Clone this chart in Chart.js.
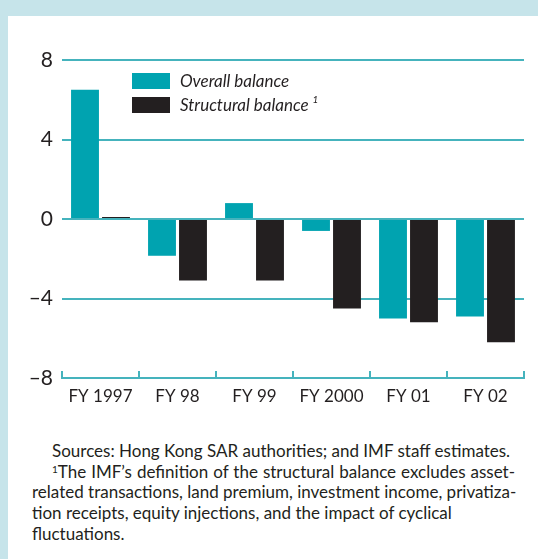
<!DOCTYPE html>
<html>
<head>
<meta charset="utf-8">
<script src="https://cdn.jsdelivr.net/npm/chart.js@4"></script>
<style>
  html, body { margin: 0; padding: 0; }
  body { width: 538px; height: 559px; background: #c6e4ea; position: relative; overflow: hidden; font-family: Lato, "Open Sans", sans-serif; color: #231f20; }
  #panel { position: absolute; left: 8px; top: 16px; width: 530px; height: 543px; background: #ffffff; }
  #wrap { position: absolute; left: 0; top: 0; width: 538px; height: 420px; }
  #notes { position: absolute; left: 32px; top: 441px; width: 483px; font-size: 17px; line-height: 20.7px; }
  #notes div { white-space: nowrap; }
  #notes .j { text-align: justify; text-align-last: justify; }
  sup { font-size: 10px; vertical-align: 5px; line-height: 0; }
</style>
</head>
<body>
<div id="panel"></div>
<div id="wrap"><canvas id="c"></canvas></div>
<div id="notes">
  <div style="padding-left:20px;">Sources: Hong Kong SAR authorities; and IMF staff estimates.</div>
  <div class="j" style="padding-left:20px;"><sup>1</sup>The IMF’s definition of the structural balance excludes asset-</div>
  <div class="j">related transactions, land premium, investment income, privatiza-</div>
  <div>tion receipts, equity injections, and the impact of cyclical</div>
  <div>fluctuations.</div>
</div>
<script>
const categories = ['FY 1997', 'FY 98', 'FY 99', 'FY 2000', 'FY 01', 'FY 02'];
const overallBalance = [6.5, -1.85, 0.8, -0.6, -5.0, -4.9];
const structuralBalance = [0.1, -3.1, -3.1, -4.5, -5.2, -6.2];
const seriesLabels = ['Overall balance', 'Structural balance'];
const yTickValues = [-8, -4, 0, 4, 8];

const TEAL = '#00a3b0';
const BLACK = '#231f20';
const GRID = '#45b3bd';
const FONT = 'Lato, "Open Sans", sans-serif';

const boundaryTicks = {
  id: 'boundaryTicks',
  afterDraw(chart) {
    const xs = chart.scales.x;
    const ctx = chart.ctx;
    const n = categories.length;
    const step = xs.getPixelForValue(1) - xs.getPixelForValue(0);
    const bottom = chart.chartArea.bottom;
    ctx.save();
    ctx.strokeStyle = GRID;
    ctx.lineWidth = 2;
    for (let i = 0; i <= n; i++) {
      const x = Math.round(xs.getPixelForValue(0) - step / 2 + i * step);
      ctx.beginPath();
      ctx.moveTo(x, bottom);
      ctx.lineTo(x, bottom - 7);
      ctx.stroke();
    }
    ctx.restore();
  }
};

const customLegend = {
  id: 'customLegend',
  afterDraw(chart) {
    const ctx = chart.ctx;
    ctx.save();
    chart.data.datasets.forEach((ds, i) => {
      const y = 73 + i * 24;
      ctx.fillStyle = ds.backgroundColor;
      ctx.fillRect(132, y, 38, 16);
      ctx.fillStyle = BLACK;
      ctx.font = 'italic 17px ' + FONT;
      ctx.textBaseline = 'alphabetic';
      ctx.textAlign = 'left';
      ctx.fillText(ds.label, 180, y + 14);
      if (i === 1) {
        const w = ctx.measureText(ds.label).width;
        ctx.font = 'italic 10px ' + FONT;
        ctx.fillText('1', 180 + w + 4, y + 6);
      }
    });
    ctx.restore();
  }
};

new Chart(document.getElementById('c'), {
  type: 'bar',
  data: {
    labels: categories,
    datasets: [
      { label: seriesLabels[0], data: overallBalance, backgroundColor: TEAL, barPercentage: 0.9, categoryPercentage: 0.805 },
      { label: seriesLabels[1], data: structuralBalance, backgroundColor: BLACK, barPercentage: 0.9, categoryPercentage: 0.805 }
    ]
  },
  options: {
    responsive: true,
    maintainAspectRatio: false,
    animation: false,
    layout: { padding: { top: 60, right: 14, left: 0, bottom: 0 } },
    plugins: { legend: { display: false }, tooltip: { enabled: false } },
    scales: {
      x: {
        grid: { display: false, drawTicks: false },
        border: { display: true, color: GRID, width: 2 },
        ticks: { color: BLACK, font: { family: FONT, size: 17 }, padding: 8, maxRotation: 0 },
        afterFit(scale) { scale.height = 42; }
      },
      y: {
        min: -8, max: 8,
        afterBuildTicks(scale) { scale.ticks = yTickValues.map(v => ({ value: v })); },
        grid: {
          drawTicks: false,
          lineWidth: 2,
          color: (c) => (c.tick && c.tick.value === -8) ? 'rgba(0,0,0,0)' : GRID
        },
        border: { display: false },
        ticks: {
          color: BLACK,
          font: { family: FONT, size: 21 },
          padding: 9,
          callback: (v) => String(v).replace('-', '\u2013')
        },
        afterFit(scale) { scale.width = 62; }
      }
    }
  },
  plugins: [boundaryTicks, customLegend]
});
</script>
</body>
</html>
